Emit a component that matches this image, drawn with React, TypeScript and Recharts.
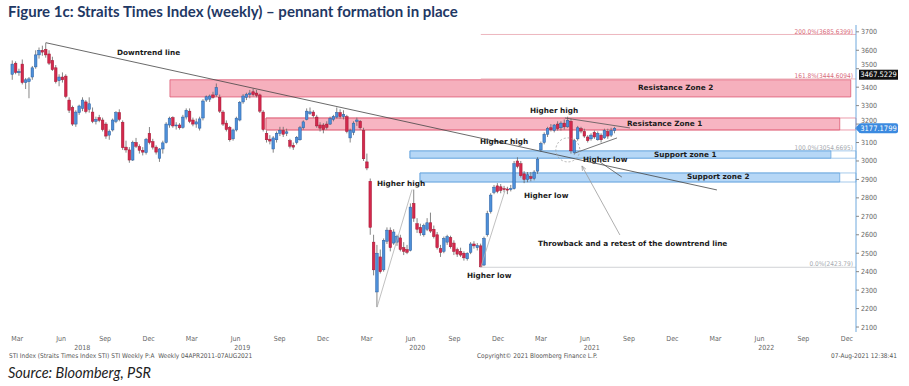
import React from "react";
import {
  ComposedChart, Bar, XAxis, YAxis, ReferenceArea, ReferenceLine, ReferenceDot,
} from "recharts";

// weekly bars, Monday of each week, first one = 19 Feb 2018
const FIRST_WEEK = Date.UTC(2018, 1, 19);
const ORIGIN = Date.UTC(2018, 2, 1);
const DAY = 864e5;

// [open, high, low, close]
const ohlc2018 = [
  [3470, 3545, 3440, 3525], [3530, 3540, 3470, 3480], [3478, 3500, 3462, 3486], [3525, 3550, 3415, 3425],
  [3425, 3450, 3390, 3440], [3430, 3455, 3340, 3445], [3455, 3515, 3440, 3505], [3510, 3600, 3500, 3575],
  [3575, 3615, 3555, 3600], [3600, 3625, 3570, 3590], [3605, 3641, 3560, 3575], [3580, 3600, 3520, 3530],
  [3545, 3565, 3488, 3495], [3505, 3520, 3420, 3430], [3435, 3470, 3405, 3455], [3455, 3480, 3425, 3440],
  [3460, 3470, 3340, 3350], [3330, 3345, 3260, 3275], [3290, 3300, 3190, 3200], [3200, 3275, 3185, 3265],
  [3262, 3305, 3250, 3298], [3285, 3345, 3270, 3330], [3320, 3330, 3258, 3268], [3280, 3345, 3262, 3310],
  [3265, 3290, 3205, 3215], [3215, 3240, 3198, 3225], [3235, 3250, 3210, 3220], [3222, 3235, 3160, 3170],
  [3200, 3210, 3120, 3135], [3140, 3170, 3115, 3160], [3168, 3230, 3160, 3222], [3215, 3270, 3205, 3262],
  [3262, 3280, 3215, 3225], [3210, 3220, 3060, 3072], [3075, 3110, 3045, 3060], [3060, 3075, 2990, 3005],
  [3005, 3110, 3000, 3100], [3100, 3125, 3070, 3080], [3078, 3090, 3040, 3058], [3058, 3075, 3030, 3048],
  [3045, 3125, 3035, 3118], [3150, 3184, 3090, 3100], [3105, 3120, 3062, 3075], [3075, 3085, 3035, 3048],
  [3015, 3070, 2995, 3065],
];
const ohlc2019 = [
  [3065, 3110, 3040, 3098], [3100, 3210, 3095, 3200], [3195, 3240, 3180, 3232], [3235, 3242, 3180, 3190],
  [3190, 3210, 3170, 3195], [3195, 3205, 3170, 3180], [3182, 3250, 3175, 3238], [3238, 3285, 3225, 3275],
  [3270, 3285, 3205, 3215], [3222, 3235, 3188, 3200], [3200, 3230, 3180, 3212], [3178, 3240, 3165, 3228],
  [3233, 3335, 3220, 3325], [3330, 3355, 3320, 3348], [3335, 3360, 3320, 3352], [3358, 3375, 3338, 3345],
  [3358, 3420, 3348, 3398], [3345, 3360, 3260, 3270], [3265, 3275, 3190, 3200], [3205, 3220, 3160, 3170],
  [3182, 3190, 3105, 3115], [3120, 3175, 3110, 3168], [3168, 3240, 3160, 3232], [3222, 3325, 3215, 3318],
  [3320, 3362, 3310, 3352], [3345, 3370, 3330, 3362], [3360, 3385, 3340, 3368], [3375, 3392, 3350, 3360],
  [3368, 3385, 3345, 3356], [3358, 3365, 3260, 3270], [3265, 3275, 3160, 3170], [3150, 3165, 3100, 3115],
  [3118, 3140, 3090, 3108], [3065, 3135, 3045, 3125], [3115, 3160, 3100, 3150], [3150, 3185, 3135, 3165],
  [3165, 3185, 3130, 3145], [3150, 3175, 3135, 3158], [3110, 3120, 3068, 3080], [3085, 3100, 3060, 3075],
  [3100, 3135, 3090, 3128], [3115, 3190, 3110, 3180], [3180, 3220, 3170, 3212], [3225, 3285, 3220, 3270],
  [3258, 3290, 3250, 3266], [3265, 3275, 3235, 3245], [3238, 3250, 3180, 3190], [3195, 3210, 3160, 3178],
  [3195, 3205, 3150, 3170], [3200, 3215, 3170, 3182], [3200, 3240, 3195, 3230], [3225, 3250, 3215, 3242],
];
const ohlc2020 = [
  [3238, 3290, 3230, 3262], [3262, 3280, 3230, 3240], [3240, 3275, 3225, 3252], [3240, 3250, 3150, 3160],
  [3125, 3175, 3100, 3165], [3155, 3215, 3140, 3205], [3215, 3235, 3190, 3222], [3215, 3222, 3170, 3180],
  [3165, 3180, 3000, 3012], [2995, 3040, 2950, 2962], [2890, 2905, 2600, 2640], [2560, 2600, 2380, 2410],
  [2290, 2545, 2208, 2500], [2480, 2520, 2390, 2400], [2410, 2580, 2400, 2570], [2565, 2640, 2550, 2625],
  [2625, 2640, 2510, 2530], [2555, 2630, 2545, 2615], [2560, 2600, 2540, 2590], [2583, 2600, 2510, 2520],
  [2530, 2560, 2490, 2510], [2520, 2545, 2495, 2505], [2515, 2770, 2510, 2750], [2770, 2845, 2670, 2690],
  [2660, 2690, 2610, 2630], [2640, 2660, 2595, 2610], [2600, 2660, 2590, 2650], [2630, 2690, 2620, 2665],
  [2665, 2720, 2610, 2620], [2630, 2650, 2580, 2590], [2600, 2615, 2520, 2530], [2525, 2545, 2480, 2505],
  [2510, 2590, 2500, 2580], [2560, 2600, 2545, 2590], [2585, 2595, 2525, 2535], [2555, 2570, 2490, 2510],
  [2520, 2530, 2480, 2495], [2510, 2530, 2480, 2490], [2500, 2510, 2460, 2475], [2470, 2505, 2460, 2500],
  [2505, 2560, 2495, 2550], [2550, 2565, 2525, 2540], [2530, 2555, 2515, 2542], [2540, 2552, 2424, 2426],
  [2436, 2590, 2430, 2580], [2600, 2730, 2590, 2715], [2725, 2825, 2715, 2815], [2830, 2870, 2820, 2858],
  [2865, 2880, 2825, 2835], [2860, 2875, 2825, 2840], [2850, 2865, 2830, 2845], [2848, 2860, 2820, 2842],
];
const ohlc2021 = [
  [2845, 2870, 2835, 2850], [2850, 3000, 2845, 2985], [3000, 3020, 2960, 2970], [2985, 3000, 2910, 2920],
  [2930, 2945, 2880, 2900], [2900, 2940, 2885, 2925], [2915, 2940, 2890, 2905], [2905, 2950, 2895, 2940],
  [2945, 3020, 2930, 3010], [3060, 3105, 3050, 3095], [3100, 3155, 3090, 3145], [3145, 3185, 3130, 3175],
  [3180, 3200, 3160, 3170], [3165, 3200, 3155, 3195], [3200, 3215, 3165, 3175], [3180, 3215, 3165, 3205],
  [3205, 3225, 3170, 3185], [3185, 3240, 3180, 3220], [3215, 3230, 3040, 3055], [3045, 3120, 3035, 3110],
  [3120, 3190, 3110, 3180], [3175, 3185, 3150, 3162], [3160, 3175, 3125, 3135], [3130, 3140, 3100, 3110],
  [3120, 3150, 3110, 3140], [3155, 3165, 3120, 3130], [3115, 3160, 3110, 3150], [3140, 3150, 3100, 3115],
  [3125, 3175, 3120, 3165], [3160, 3175, 3120, 3135], [3140, 3180, 3130, 3165], [3165, 3185, 3150, 3177.18],
];

const monthNames = ["Mar", "Jun", "Sep", "Dec"];
const monthNums = [2, 5, 8, 11];
const tickYears = [2018, 2019, 2020, 2021, 2022];
const yearLabelDates = [[2018, 6, 15], [2019, 5, 15], [2020, 5, 15], [2021, 5, 15], [2022, 5, 15]];
const priceTicks = [2100, 2200, 2300, 2400, 2500, 2600, 2700, 2800, 2900, 3000, 3100, 3200, 3300, 3400, 3500, 3600, 3700];
// tick labels that sit partly behind the price tags in the original
const tuckedTicks = [3500, 3200];

const fib = { p0: 2423.79, p100: 3054.6695, p1618: 3444.6094, p200: 3685.6399 };
const lastPrice = 3177.1799;
const blackTag = 3467.5229;

const X_DOMAIN: [number, number] = [-36, 1755];
const Y_DOMAIN: [number, number] = [2073, 3737];

const dayOf = (y: number, m: number, d: number) => (Date.UTC(y, m, d) - ORIGIN) / DAY;
const firstDay = (FIRST_WEEK - ORIGIN) / DAY;

const data = [...ohlc2018, ...ohlc2019, ...ohlc2020, ...ohlc2021].map(([o, h, l, c], i) => ({
  d: firstDay + 7 * i, o, h, l, c, range: [l, h],
}));

const tickText: Record<string, { t: string; row: number }> = {};
const xTicks: number[] = [];
tickYears.forEach((y) => monthNums.forEach((m, k) => {
  const v = dayOf(y, m, 1);
  xTicks.push(v);
  tickText[String(v)] = { t: monthNames[k], row: 0 };
}));
yearLabelDates.forEach(([y, m, d]) => {
  const v = dayOf(y, m, d);
  xTicks.push(v);
  tickText[String(v)] = { t: String(y), row: 1 };
});
xTicks.sort((a, b) => a - b);

const narrow = "'Liberation Sans Narrow', 'DejaVu Sans Condensed', sans-serif";
const bold = "'DejaVu Sans', Verdana, sans-serif";

function Candle(p: any) {
  const { x, y, width, height, payload } = p;
  const { o, h, l, c } = payload;
  const k = h === l ? 0 : height / (h - l);
  const yv = (v: number) => y + (h - v) * k;
  const cx = x + width / 2;
  const up = c >= o;
  const top = yv(Math.max(o, c));
  const bot = yv(Math.min(o, c));
  return (
    <g>
      <line x1={cx} x2={cx} y1={y} y2={y + height} stroke="#666" strokeWidth={0.8} />
      <rect x={cx - 1.3} y={top} width={2.6} height={Math.max(bot - top, 0.8)}
        fill={up ? "#4d8fd9" : "#d4284c"} stroke={up ? "#2b5f9f" : "#a01935"} strokeWidth={0.5} />
    </g>
  );
}

function XTick(p: any) {
  const { x, y, payload } = p;
  const info = tickText[String(payload.value)];
  if (!info) return null;
  return (
    <text x={x} y={y + (info.row ? 18 : 9)} textAnchor="middle" fontSize={7} fontFamily={narrow} fill="#666">
      {info.t}
    </text>
  );
}

function YTick(p: any) {
  const { x, y, payload } = p;
  const dy = tuckedTicks.includes(payload.value) ? -4 : 0;
  return (
    <text x={x} y={y + dy} dy="0.355em" textAnchor="start" fontSize={7} fontFamily={narrow} fill="#666">
      {payload.value}
    </text>
  );
}

function Arrow(p: any) {
  const { x1, y1, x2, y2 } = p;
  const a = Math.atan2(y2 - y1, x2 - x1);
  const s = 5;
  const pa = `${x2 - s * Math.cos(a - 0.4)},${y2 - s * Math.sin(a - 0.4)} ${x2},${y2} ${x2 - s * Math.cos(a + 0.4)},${y2 - s * Math.sin(a + 0.4)}`;
  return (
    <g>
      <line x1={x1} y1={y1} x2={x2} y2={y2} stroke="#9a9a9a" strokeWidth={0.8} />
      <polyline points={pa} fill="none" stroke="#9a9a9a" strokeWidth={0.8} />
    </g>
  );
}

function PriceTag({ viewBox, value, bg, arrow }: any) {
  const x = viewBox.x + viewBox.width + 1;
  const y = viewBox.y;
  return (
    <g>
      {arrow && <polygon points={`${x - 2},${y} ${x + 3},${y - 5} ${x + 3},${y + 5}`} fill={bg} />}
      <rect x={x + 2} y={y - 5} width={39} height={10} fill={bg} rx={arrow ? 2 : 0} />
      <text x={x + 21.5} y={y + 2.6} textAnchor="middle" fontSize={7.5} fontFamily={narrow} fill="#fff">{value}</text>
    </g>
  );
}

const labels: { t: string; x: number; y: number }[] = [
  { t: "Downtrend line", x: 117, y: 53 },
  { t: "Resistance Zone 2", x: 638, y: 88 },
  { t: "Resistance Zone 1", x: 627, y: 124 },
  { t: "Higher high", x: 530, y: 111 },
  { t: "Higher high", x: 480, y: 142 },
  { t: "Support zone 1", x: 654, y: 155 },
  { t: "Higher low", x: 583, y: 160 },
  { t: "Support zone 2", x: 687, y: 177 },
  { t: "Higher high", x: 377, y: 184 },
  { t: "Higher low", x: 524, y: 196 },
  { t: "Throwback and a retest of the downtrend line", x: 538, y: 244 },
  { t: "Higher low", x: 467, y: 276 },
];

const fibLabels: { t: string; y: number; c: string }[] = [
  { t: "200.0%(3685.6399)", y: 32, c: "#d86b7b" },
  { t: "161.8%(3444.6094)", y: 76, c: "#d86b7b" },
  { t: "100.0%(3054.6695)", y: 148, c: "#a6aab0" },
  { t: "0.0%(2423.79)", y: 264, c: "#a6aab0" },
];

const pinkFill = "#f28ea1";
const pinkLine = "#dd5a74";
const blueFill = "#86bdf0";
const blueLine = "#6aa6de";

export default function App() {
  return (
    <div style={{ position: "relative", width: 909, height: 386, background: "#fff", overflow: "hidden" }}>
      <style>{`body{margin:0}`}</style>
      <ComposedChart width={909} height={386} data={data} margin={{ top: 25, right: 0, left: 0, bottom: 34 }}>
        <XAxis type="number" dataKey="d" domain={X_DOMAIN} allowDataOverflow ticks={xTicks} interval={0}
          tick={<XTick />} tickLine={false} axisLine={false} tickSize={0} tickMargin={0} height={20} />
        <YAxis orientation="right" domain={Y_DOMAIN} allowDataOverflow ticks={priceTicks} interval={0} width={53}
          tick={<YTick />} tickSize={3} tickMargin={2}
          tickLine={{ stroke: "#888" }} axisLine={{ stroke: "#6fa8dc" }} />

        <ReferenceArea x1={319.6} x2={1744} y1={3347} y2={3440} fill={pinkFill} fillOpacity={0.7} stroke={pinkLine} strokeWidth={0.8} />
        <ReferenceArea x1={520.5} x2={X_DOMAIN[1]} y1={3168} y2={3233} fill="none" stroke={pinkLine} strokeWidth={0.6} />
        <ReferenceArea x1={520.5} x2={1721} y1={3168} y2={3233} fill={pinkFill} fillOpacity={0.65} stroke={pinkLine} strokeWidth={0.8} />
        <ReferenceArea x1={821.7} x2={X_DOMAIN[1]} y1={3015} y2={fib.p100} fill="none" stroke={blueLine} strokeWidth={0.6} />
        <ReferenceArea x1={821.7} x2={1702.5} y1={3015} y2={fib.p100} fill={blueFill} fillOpacity={0.6} stroke={blueLine} strokeWidth={0.8} />
        <ReferenceArea x1={842.7} x2={X_DOMAIN[1]} y1={2886} y2={2935} fill="none" stroke={blueLine} strokeWidth={0.6} />
        <ReferenceArea x1={842.7} x2={1721} y1={2886} y2={2935} fill={blueFill} fillOpacity={0.6} stroke={blueLine} strokeWidth={0.8} />

        <ReferenceLine segment={[{ x: 970, y: fib.p200 }, { x: X_DOMAIN[1], y: fib.p200 }]} stroke="#e8a3ad" strokeWidth={0.8} />
        <ReferenceLine segment={[{ x: 970, y: fib.p1618 }, { x: X_DOMAIN[1], y: fib.p1618 }]} stroke="#e8a3ad" strokeWidth={0.8} />
        <ReferenceLine segment={[{ x: 970, y: fib.p0 }, { x: X_DOMAIN[1], y: fib.p0 }]} stroke="#c4c7cc" strokeWidth={0.8} />

        <Bar dataKey="range" shape={<Candle />} isAnimationActive={false} barSize={3} />

        <ReferenceLine segment={[{ x: 60, y: 3641 }, { x: 1464, y: 2843 }]} stroke="#444" strokeWidth={0.8} />
        <ReferenceLine segment={[{ x: 753, y: 2208 }, { x: 826, y: 2845 }]} stroke="#b0b0b0" strokeWidth={0.8} />
        <ReferenceLine segment={[{ x: 970, y: 2424 }, { x: 1020.5, y: 2838 }]} stroke="#b0b0b0" strokeWidth={0.8} />
        <ReferenceLine segment={[{ x: 1146, y: 3233 }, { x: 1282, y: 3179 }]} stroke="#555" strokeWidth={0.8} />
        <ReferenceLine segment={[{ x: 1167, y: 3043 }, { x: 1255, y: 3125 }]} stroke="#555" strokeWidth={0.8} />
        <ReferenceLine segment={[{ x: 1219, y: 2995 }, { x: 1265, y: 2913 }]} stroke="#555" strokeWidth={0.8} />
        <ReferenceLine segment={[{ x: 1261, y: 2599 }, { x: 1181.6, y: 2973 }]} shape={<Arrow />} />
        <ReferenceDot x={1152} y={3060} r={12} fill="none" stroke="#a0a0a0" strokeWidth={0.8} strokeDasharray="2 2" />

        <ReferenceLine y={blackTag} stroke="none" label={<PriceTag value="3467.5229" bg="#111" />} />
        <ReferenceLine y={lastPrice} stroke="none" label={<PriceTag value="3177.1799" bg="#3b8ae0" arrow />} />
      </ComposedChart>

      {labels.map((l, i) => (
        <div key={i} style={{ position: "absolute", left: l.x, top: l.y, transform: "translateY(-50%)", fontFamily: bold,
          fontWeight: 700, fontSize: 7.3, lineHeight: 1, color: "#1b1b1b", whiteSpace: "nowrap" }}>{l.t}</div>
      ))}
      {fibLabels.map((l, i) => (
        <div key={i} style={{ position: "absolute", right: 909 - 853, top: l.y, transform: "translateY(-50%)", fontFamily: narrow,
          fontSize: 6.5, lineHeight: 1, color: l.c, whiteSpace: "nowrap" }}>{l.t}</div>
      ))}

      <div style={{ position: "absolute", left: 8, top: 2, fontFamily: "Lato, 'Open Sans', sans-serif", fontWeight: 700,
        fontSize: 15, color: "#1f3864", whiteSpace: "nowrap" }}>
        Figure 1c: Straits Times Index (weekly) – pennant formation in place
      </div>
      <div style={{ position: "absolute", left: 9, top: 352, fontFamily: narrow, fontSize: 6.5, color: "#555", whiteSpace: "nowrap" }}>
        STI Index (Straits Times Index STI) STI Weekly P:A&nbsp;&nbsp;Weekly 04APR2011-07AUG2021
      </div>
      <div style={{ position: "absolute", left: 477, top: 352, fontFamily: narrow, fontSize: 6.5, color: "#555", whiteSpace: "nowrap" }}>
        Copyright© 2021 Bloomberg Finance L.P.
      </div>
      <div style={{ position: "absolute", right: 909 - 897, top: 352, fontFamily: narrow, fontSize: 6.5, color: "#555", whiteSpace: "nowrap" }}>
        07-Aug-2021 12:38:41
      </div>
      <div style={{ position: "absolute", left: 8, top: 364, fontFamily: "Lato, 'Open Sans', sans-serif", fontStyle: "italic",
        fontSize: 14.5, color: "#222", whiteSpace: "nowrap" }}>
        Source: Bloomberg, PSR
      </div>
    </div>
  );
}
